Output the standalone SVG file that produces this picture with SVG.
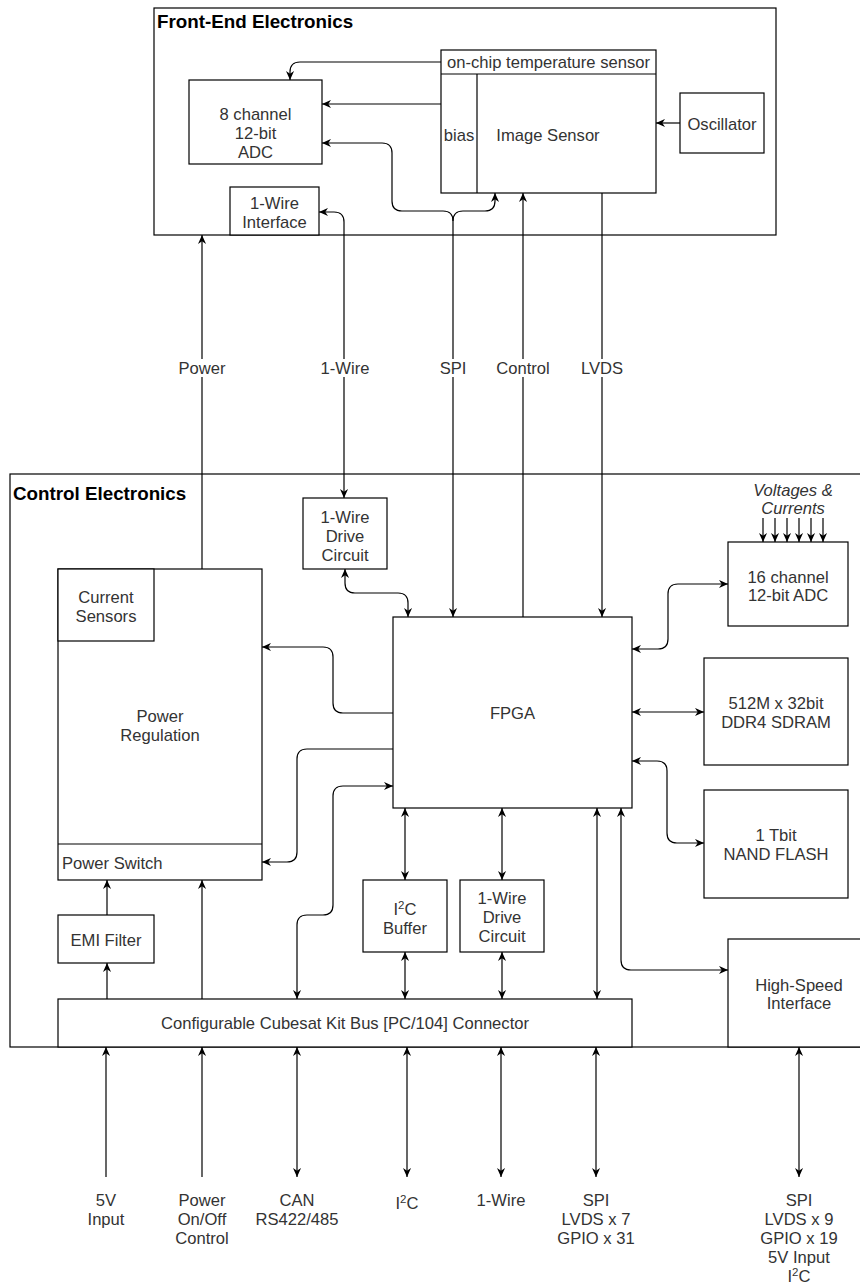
<svg xmlns="http://www.w3.org/2000/svg" width="860" height="1286" viewBox="0 0 860 1286">
<defs>
<marker id="arr" viewBox="0 0 10 10" refX="10" refY="5" markerWidth="9" markerHeight="9" markerUnits="userSpaceOnUse" orient="auto-start-reverse">
<path d="M0,0.5 L10,5 L0,9.5 L3,5 Z" fill="#000"/>
</marker>
<style>
.box{fill:#fff;stroke:#000;stroke-width:1.2}
.ln{fill:none;stroke:#000;stroke-width:1.2}
.a{marker-end:url(#arr)}
.s{marker-start:url(#arr)}
.b{marker-start:url(#arr);marker-end:url(#arr)}
text{font-family:"Liberation Sans",Arial,sans-serif;font-size:16.6px;fill:#333;text-anchor:middle}
.title{font-weight:bold;font-size:18.8px;fill:#000;text-anchor:start}
.lft{text-anchor:start}
.it{font-style:italic}
.lbg{fill:#fff}
</style>
</defs>
<rect width="860" height="1286" fill="#fff"/>

<g id="front-end">
<rect class="box" x="154" y="8" width="622" height="227"/>
<text class="title" x="157" y="28">Front-End Electronics</text>
</g>
<g id="control-electronics">
<rect class="box" x="10" y="474" width="860" height="573"/>
<text class="title" x="13" y="500">Control Electronics</text>
</g>

<g id="adc8">
<rect class="box" x="189" y="80" width="133" height="84"/>
<text x="255.5" y="119.5">8 channel</text>
<text x="255.5" y="138.5">12-bit</text>
<text x="255.5" y="157.5">ADC</text>
</g>
<g id="image-sensor">
<rect class="box" x="441" y="50" width="215" height="143"/>
<line class="ln" x1="441" y1="74" x2="656" y2="74"/>
<line class="ln" x1="477" y1="74" x2="477" y2="193"/>
<text x="548.5" y="67.5">on-chip temperature sensor</text>
<text x="459" y="140.5">bias</text>
<text x="548" y="140.5">Image Sensor</text>
</g>
<g id="oscillator">
<rect class="box" x="680" y="93" width="84" height="60"/>
<text x="722" y="129.5">Oscillator</text>
</g>
<g id="onewire-interface">
<rect class="box" x="230" y="187" width="89" height="48"/>
<text x="274.5" y="208.5">1-Wire</text>
<text x="274.5" y="227.5">Interface</text>
</g>

<g id="onewire-drive-top">
<rect class="box" x="303" y="498" width="84" height="71"/>
<text x="345" y="522.5">1-Wire</text>
<text x="345" y="541.5">Drive</text>
<text x="345" y="560.5">Circuit</text>
</g>
<g id="power-regulation">
<rect class="box" x="58" y="569" width="204" height="311"/>
<rect class="box" x="58" y="569" width="96" height="72"/>
<line class="ln" x1="58" y1="844" x2="262" y2="844"/>
<text x="106" y="602.5">Current</text>
<text x="106" y="621.5">Sensors</text>
<text x="160" y="721.5">Power</text>
<text x="160" y="740.5">Regulation</text>
<text class="lft" x="62" y="868.5">Power Switch</text>
</g>
<g id="fpga">
<rect class="box" x="393" y="617" width="239" height="191"/>
<text x="512.5" y="718.5">FPGA</text>
</g>
<g id="adc16">
<rect class="box" x="728" y="542" width="120" height="84"/>
<text x="788" y="582.5">16 channel</text>
<text x="788" y="600.5">12-bit ADC</text>
<text class="it" x="793" y="495.5">Voltages &amp;</text>
<text class="it" x="793" y="513.5">Currents</text>
</g>
<g id="ddr4">
<rect class="box" x="704" y="658" width="144" height="107"/>
<text x="776" y="708.5">512M x 32bit</text>
<text x="776" y="727.5">DDR4 SDRAM</text>
</g>
<g id="nand">
<rect class="box" x="704" y="790" width="144" height="108"/>
<text x="776" y="840.5">1 Tbit</text>
<text x="776" y="859.5">NAND FLASH</text>
</g>
<g id="i2c-buffer">
<rect class="box" x="363" y="880" width="84" height="72"/>
<text x="405" y="914.5">I<tspan font-size="11.5" dy="-6">2</tspan><tspan dy="6">C</tspan></text>
<text x="405" y="933.5">Buffer</text>
</g>
<g id="onewire-drive-bottom">
<rect class="box" x="460" y="880" width="84" height="72"/>
<text x="502" y="903.5">1-Wire</text>
<text x="502" y="922.5">Drive</text>
<text x="502" y="941.5">Circuit</text>
</g>
<g id="emi-filter">
<rect class="box" x="58" y="915" width="96" height="48"/>
<text x="106" y="945.5">EMI Filter</text>
</g>
<g id="high-speed-interface">
<rect class="box" x="728" y="939" width="140" height="108"/>
<text x="799" y="990.5">High-Speed</text>
<text x="799" y="1008.5">Interface</text>
</g>
<g id="connector">
<rect class="box" x="58" y="999" width="574" height="48"/>
<text x="345" y="1028.5">Configurable Cubesat Kit Bus [PC/104] Connector</text>
</g>

<g id="connectors">
<path class="ln a" d="M441,62 H300 Q290,62 290,72 V80"/>
<path class="ln a" d="M441,104 H322"/>
<path class="ln b" d="M453,617 V221 Q453,211 443,211 H402 Q392,211 392,201 V153 Q392,143 382,143 H322"/>
<path class="ln a" d="M453,221 Q453,211 463,211 H485 Q495,211 495,201 V193"/>
<path class="ln a" d="M523,617 V193"/>
<path class="ln a" d="M602,193 V617"/>
<path class="ln a" d="M680,123 H656"/>
<path class="ln b" d="M319,212 H334 Q344,212 344,222 V498"/>
<path class="ln a" d="M202,569 V235"/>
<path class="ln b" d="M345,569 V583 Q345,593 355,593 H398 Q408,593 408,603 V617"/>
<path class="ln b" d="M632,649 H658 Q668,649 668,639 V594 Q668,584 678,584 H728"/>
<path class="ln b" d="M632,712 H704"/>
<path class="ln b" d="M632,761 H657 Q667,761 667,771 V833 Q667,843 677,843 H704"/>
<path class="ln a" d="M763,518 V542"/>
<path class="ln a" d="M775,518 V542"/>
<path class="ln a" d="M787,518 V542"/>
<path class="ln a" d="M799,518 V542"/>
<path class="ln a" d="M811,518 V542"/>
<path class="ln a" d="M823,518 V542"/>
<path class="ln a" d="M393,713 H343 Q333,713 333,703 V657 Q333,647 323,647 H262"/>
<path class="ln a" d="M393,749 H307 Q297,749 297,759 V852 Q297,862 287,862 H262"/>
<path class="ln b" d="M393,786 H343 Q333,786 333,796 V905 Q333,915 323,915 H307 Q297,915 297,925 V999"/>
<path class="ln a" d="M107,915 V880"/>
<path class="ln a" d="M107,999 V963"/>
<path class="ln a" d="M202,999 V880"/>
<path class="ln b" d="M405,808 V880"/>
<path class="ln b" d="M405,952 V999"/>
<path class="ln b" d="M502,808 V880"/>
<path class="ln b" d="M502,952 V999"/>
<path class="ln b" d="M597,808 V999"/>
<path class="ln b" d="M621,808 V960 Q621,970 631,970 H728"/>
<path class="ln a" d="M106,1177 V1047"/>
<path class="ln a" d="M202,1177 V1047"/>
<path class="ln b" d="M297,1047 V1177"/>
<path class="ln b" d="M407,1047 V1177"/>
<path class="ln b" d="M501,1047 V1177"/>
<path class="ln b" d="M596,1047 V1177"/>
<path class="ln b" d="M799,1047 V1177"/>
<rect class="lbg" x="179" y="359" width="46" height="18"/>
<text x="202" y="373.5">Power</text>
<rect class="lbg" x="321" y="359" width="48" height="18"/>
<text x="345" y="373.5">1-Wire</text>
<rect class="lbg" x="439" y="359" width="28" height="18"/>
<text x="453" y="373.5">SPI</text>
<rect class="lbg" x="495" y="359" width="56" height="18"/>
<text x="523" y="373.5">Control</text>
<rect class="lbg" x="582" y="359" width="40" height="18"/>
<text x="602" y="373.5">LVDS</text>
</g>

<g id="bottom-labels">
<text x="106" y="1205.5">5V</text>
<text x="106" y="1224.5">Input</text>
<text x="202" y="1205.5">Power</text>
<text x="202" y="1224.5">On/Off</text>
<text x="202" y="1243.5">Control</text>
<text x="297" y="1205.5">CAN</text>
<text x="297" y="1224.5">RS422/485</text>
<text x="407" y="1208.5">I<tspan font-size="11.5" dy="-6">2</tspan><tspan dy="6">C</tspan></text>
<text x="501" y="1205.5">1-Wire</text>
<text x="596" y="1205.5">SPI</text>
<text x="596" y="1224.5">LVDS x 7</text>
<text x="596" y="1243.5">GPIO x 31</text>
<text x="799" y="1205.5">SPI</text>
<text x="799" y="1224.5">LVDS x 9</text>
<text x="799" y="1243.5">GPIO x 19</text>
<text x="799" y="1262.5">5V Input</text>
<text x="799" y="1281.5">I<tspan font-size="11.5" dy="-6">2</tspan><tspan dy="6">C</tspan></text>
</g>
</svg>
